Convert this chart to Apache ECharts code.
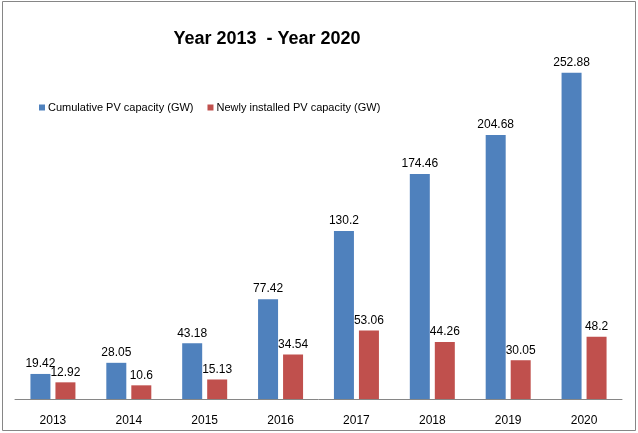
<!DOCTYPE html>
<html>
<head>
<meta charset="utf-8">
<script src="https://cdn.jsdelivr.net/npm/echarts@6/dist/echarts.min.js"></script>
<style>
  html, body { margin: 0; padding: 0; background: #fff; }
  #main { width: 638px; height: 433px; }
</style>
</head>
<body>
<div id="main"></div>
<script>
var years = ['2013', '2014', '2015', '2016', '2017', '2018', '2019', '2020'];
var cumulative = [19.42, 28.05, 43.18, 77.42, 130.2, 174.46, 204.68, 252.88];
var newlyInstalled = [12.92, 10.6, 15.13, 34.54, 53.06, 44.26, 30.05, 48.2];

(function(){

    var chart = echarts.init(document.getElementById('main'));

    var labelStyle = {
        show: true,
        position: 'top',
        distance: 4,
        color: '#000',
        fontSize: 12,
        fontFamily: 'Liberation Sans'
    };

    var option = {
        backgroundColor: '#fff',
        animation: false,
        title: {
            text: 'Year 2013  - Year 2020',
            left: 262,
            top: 25,
            textAlign: 'center',
            textStyle: {
                fontSize: 18,
                fontWeight: 'bold',
                color: '#000',
                fontFamily: 'Liberation Sans'
            }
        },
        legend: {
            left: 34,
            top: 97,
            itemWidth: 6,
            itemHeight: 6,
            itemGap: 14,
            icon: 'rect',
            textStyle: { fontSize: 11, color: '#000', fontFamily: 'Liberation Sans', padding: [0, 0, 0, -2] },
            data: ['Cumulative PV capacity (GW)', 'Newly installed PV capacity (GW)']
        },
        graphic: [{
            type: 'rect',
            shape: { x: 2.5, y: 1.5, width: 633, height: 429 },
            style: { fill: 'none', stroke: '#868686', lineWidth: 1 },
            silent: true
        }],
        grid: {
            left: 15,
            right: 16,
            top: 12,
            bottom: 34
        },
        xAxis: {
            type: 'category',
            data: years,
            axisLine: { lineStyle: { color: '#868686' } },
            axisTick: { show: false },
            axisLabel: { color: '#000', fontSize: 12, margin: 16, fontFamily: 'Liberation Sans' }
        },
        yAxis: {
            type: 'value',
            min: 0,
            max: 300,
            show: false,
            splitLine: { show: false }
        },
        series: [
            {
                name: 'Cumulative PV capacity (GW)',
                type: 'bar',
                data: cumulative,
                barWidth: 20,
                barGap: '25%',
                itemStyle: { color: '#4F81BD' },
                label: labelStyle
            },
            {
                name: 'Newly installed PV capacity (GW)',
                type: 'bar',
                data: newlyInstalled,
                barWidth: 20,
                itemStyle: { color: '#C0504D' },
                label: labelStyle
            }
        ]
    };

    chart.setOption(option);
})();
</script>
</body>
</html>
